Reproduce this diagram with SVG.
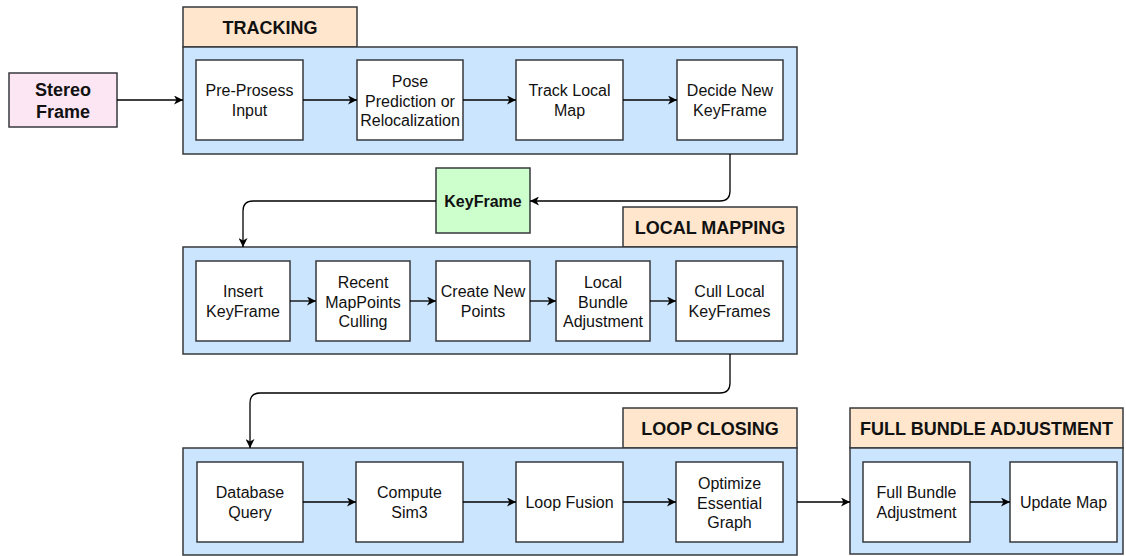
<svg xmlns="http://www.w3.org/2000/svg" width="1126" height="556" viewBox="0 0 1126 556">
  <defs>
    <marker id="arrow" markerUnits="userSpaceOnUse" markerWidth="10" markerHeight="9" refX="9" refY="4.5" orient="auto">
      <path d="M0,0 L9,4.5 L0,9 L2.5,4.5 Z" fill="#000"/>
    </marker>
    <style>
      .header { fill: #ffe6cc; stroke: #36393d; stroke-width: 1.5; }
      .panel { fill: #cce5ff; stroke: #36393d; stroke-width: 1.5; }
      .step { fill: #ffffff; stroke: #36393d; stroke-width: 1.5; }
      .title { font-family: "Liberation Sans", Arial, sans-serif; font-size: 18px; font-weight: bold; fill: #111; text-anchor: middle; }
      .label { font-family: "Liberation Sans", Arial, sans-serif; font-size: 16px; fill: #111; text-anchor: middle; }
      .bold { font-family: "Liberation Sans", Arial, sans-serif; font-weight: bold; fill: #111; text-anchor: middle; }
      .edge { fill: none; stroke: #000; stroke-width: 1.3; marker-end: url(#arrow); }
    </style>
  </defs>

  <!-- input -->
  <g id="stereo-frame">
    <rect x="9" y="73" width="108" height="54" fill="#fde6f3" stroke="#36393d" stroke-width="1.5"/>
    <text class="bold" font-size="18" x="63" y="95.5">Stereo</text>
    <text class="bold" font-size="18" x="63" y="117.5">Frame</text>
  </g>

  <!-- tracking thread -->
  <g id="tracking">
    <rect class="header" x="183" y="7" width="174" height="40"/>
    <text class="title" x="270" y="33.5">TRACKING</text>
    <rect class="panel" x="183" y="47" width="614" height="107"/>
  </g>
  <g id="pre-process">
    <rect class="step" x="196" y="60" width="107" height="80"/>
    <text class="label" x="249.5" y="96">Pre-Prosess</text>
    <text class="label" x="249.5" y="116">Input</text>
  </g>
  <g id="pose-prediction">
    <rect class="step" x="357" y="60" width="106" height="80"/>
    <text class="label" x="410" y="87">Pose</text>
    <text class="label" x="410" y="106.5">Prediction or</text>
    <text class="label" x="410" y="126">Relocalization</text>
  </g>
  <g id="track-local-map">
    <rect class="step" x="516" y="60" width="107" height="80"/>
    <text class="label" x="569.5" y="96">Track Local</text>
    <text class="label" x="569.5" y="116">Map</text>
  </g>
  <g id="decide-keyframe">
    <rect class="step" x="677" y="60" width="106" height="80"/>
    <text class="label" x="730" y="96">Decide New</text>
    <text class="label" x="730" y="116">KeyFrame</text>
  </g>

  <!-- keyframe hand-off -->
  <g id="keyframe">
    <rect x="436" y="168" width="94" height="65" fill="#ccffcc" stroke="#36393d" stroke-width="1.5"/>
    <text class="bold" font-size="16" x="483" y="206.5">KeyFrame</text>
  </g>

  <!-- local mapping thread -->
  <g id="local-mapping">
    <rect class="header" x="623" y="207" width="174" height="40"/>
    <text class="title" x="710" y="233.5">LOCAL MAPPING</text>
    <rect class="panel" x="183" y="247" width="614" height="107"/>
  </g>
  <g id="insert-keyframe">
    <rect class="step" x="196" y="261" width="94" height="80"/>
    <text class="label" x="243" y="297">Insert</text>
    <text class="label" x="243" y="317">KeyFrame</text>
  </g>
  <g id="mappoints-culling">
    <rect class="step" x="316" y="261" width="94" height="80"/>
    <text class="label" x="363" y="288">Recent</text>
    <text class="label" x="363" y="307.5">MapPoints</text>
    <text class="label" x="363" y="327">Culling</text>
  </g>
  <g id="create-points">
    <rect class="step" x="436" y="261" width="94" height="80"/>
    <text class="label" x="483" y="297">Create New</text>
    <text class="label" x="483" y="317">Points</text>
  </g>
  <g id="local-ba">
    <rect class="step" x="556" y="261" width="94" height="80"/>
    <text class="label" x="603" y="288">Local</text>
    <text class="label" x="603" y="307.5">Bundle</text>
    <text class="label" x="603" y="327">Adjustment</text>
  </g>
  <g id="cull-keyframes">
    <rect class="step" x="676" y="261" width="107" height="80"/>
    <text class="label" x="729.5" y="297">Cull Local</text>
    <text class="label" x="729.5" y="317">KeyFrames</text>
  </g>

  <!-- loop closing thread -->
  <g id="loop-closing">
    <rect class="header" x="623" y="408" width="174" height="40"/>
    <text class="title" x="710" y="434.5">LOOP CLOSING</text>
    <rect class="panel" x="183" y="448" width="614" height="107"/>
  </g>
  <g id="database-query">
    <rect class="step" x="197" y="462" width="106" height="80"/>
    <text class="label" x="250" y="498">Database</text>
    <text class="label" x="250" y="518">Query</text>
  </g>
  <g id="compute-sim3">
    <rect class="step" x="356" y="462" width="107" height="80"/>
    <text class="label" x="409.5" y="498">Compute</text>
    <text class="label" x="409.5" y="518">Sim3</text>
  </g>
  <g id="loop-fusion">
    <rect class="step" x="516" y="462" width="107" height="80"/>
    <text class="label" x="569.5" y="507.5">Loop Fusion</text>
  </g>
  <g id="optimize-graph">
    <rect class="step" x="676" y="462" width="107" height="80"/>
    <text class="label" x="729.5" y="489">Optimize</text>
    <text class="label" x="729.5" y="508.5">Essential</text>
    <text class="label" x="729.5" y="528">Graph</text>
  </g>

  <!-- full bundle adjustment thread -->
  <g id="full-ba-thread">
    <rect class="header" x="850" y="408" width="273" height="40"/>
    <text class="title" x="986.5" y="434.5">FULL BUNDLE ADJUSTMENT</text>
    <rect class="panel" x="850" y="448" width="273" height="106"/>
  </g>
  <g id="full-ba">
    <rect class="step" x="863" y="462" width="107" height="80"/>
    <text class="label" x="916.5" y="498">Full Bundle</text>
    <text class="label" x="916.5" y="518">Adjustment</text>
  </g>
  <g id="update-map">
    <rect class="step" x="1010" y="462" width="107" height="80"/>
    <text class="label" x="1063.5" y="507.5">Update Map</text>
  </g>

  <!-- connectors -->
  <g id="connectors">
    <path class="edge" d="M117,100 H183"/>
    <path class="edge" d="M303,100 H357"/>
    <path class="edge" d="M463,100 H516"/>
    <path class="edge" d="M623,100 H677"/>
    <path class="edge" d="M730,154 V191 Q730,201 720,201 H530"/>
    <path class="edge" d="M436,201 H253 Q243,201 243,211 V247"/>
    <path class="edge" d="M290,301 H316"/>
    <path class="edge" d="M410,301 H436"/>
    <path class="edge" d="M530,301 H556"/>
    <path class="edge" d="M650,301 H676"/>
    <path class="edge" d="M730,354 V383 Q730,393 720,393 H260 Q250,393 250,403 V448"/>
    <path class="edge" d="M303,502 H356"/>
    <path class="edge" d="M463,502 H516"/>
    <path class="edge" d="M623,502 H676"/>
    <path class="edge" d="M797,502 H850"/>
    <path class="edge" d="M970,502 H1010"/>
  </g>
</svg>
